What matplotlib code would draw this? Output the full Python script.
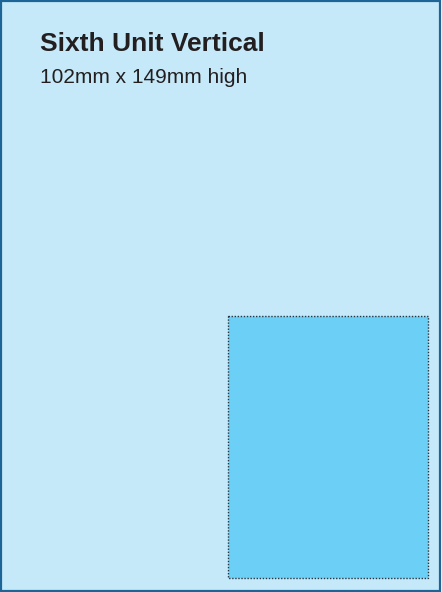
import matplotlib.pyplot as plt
from matplotlib.patches import Rectangle

plt.rcParams['font.family'] = ['Liberation Sans', 'DejaVu Sans']

# 文本内容
title = 'Sixth Unit Vertical'
subtitle = '102mm x 149mm high'

# 页面与广告位（以页面像素为单位）
page_size = [442, 592]
unit_left = [228, 316]      # 广告位左上角
unit_size = [200, 262]      # 宽, 高

page_color = '#c6e9f9'
unit_color = '#6ccff5'
border_color = '#1d6597'
text_color = '#231f20'

fig = plt.figure(figsize=(4.42, 5.92), dpi=100)
ax = fig.add_axes([0, 0, 1, 1])
ax.set_xlim(0, page_size[0])
ax.set_ylim(page_size[1], 0)
ax.axis('off')

# 页面背景和边框
ax.add_patch(Rectangle((1, 1), page_size[0] - 3, page_size[1] - 2.5,
                       facecolor=page_color, edgecolor=border_color, linewidth=1.6))

# 广告位（点线边框）
ax.add_patch(Rectangle((unit_left[0], unit_left[1]), unit_size[0], unit_size[1],
                       facecolor=unit_color, edgecolor='#2a3540', linewidth=1.0,
                       linestyle=(0, (1, 1.2))))

ax.text(40, 51, title, fontsize=19, fontweight='bold', color=text_color,
        ha='left', va='baseline')
ax.text(40, 83, subtitle, fontsize=15, color=text_color,
        ha='left', va='baseline')

plt.savefig('out.png', dpi=100, facecolor='white')
